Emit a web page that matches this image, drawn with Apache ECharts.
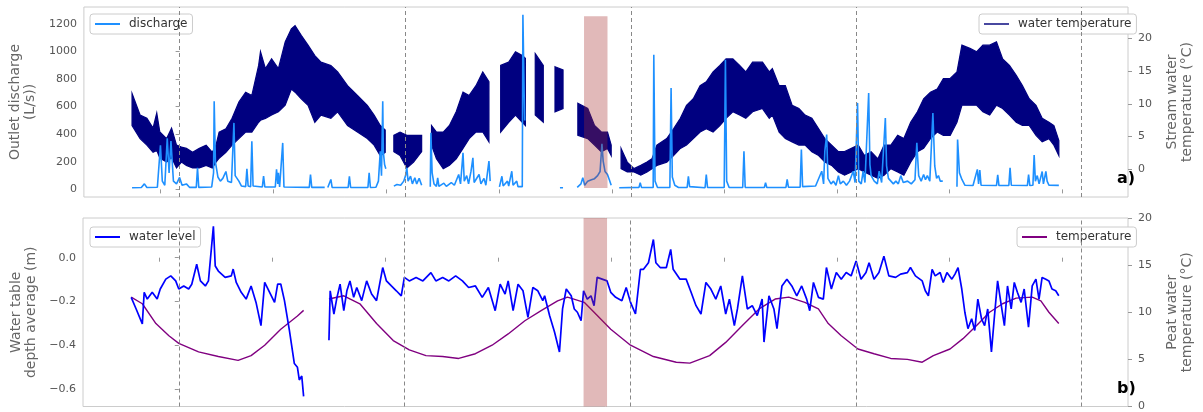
<!DOCTYPE html>
<html><head><meta charset="utf-8">
<script src="https://cdn.jsdelivr.net/npm/echarts@6/dist/echarts.min.js"></script>
<style>html,body{margin:0;padding:0;background:#fff}#c{width:1203px;height:412px}</style>
</head><body><div id="c"></div>
<script>
// x values: days since 2015-01-01
const yearStarts = [0, 365, 731, 1096, 1461];
const xTicks = [-31, 151, 334, 517, 700, 882, 1065, 1247, 1430];
const eventSpan = [655, 693];
const dischargeTicks = [0, 200, 400, 600, 800, 1000, 1200];
const streamTempTicks = [0, 5, 10, 15, 20];
const levelTicks = [-0.6, -0.4, -0.2, 0.0];
const peatTempTicks = [0, 5, 10, 15, 20];

// stream water temperature: daily envelope (max / min), null = no data
const tempDays = [-77,-64,-53,-43,-37,-32,-21,-13,-5,3,11,21,32,43,53,59,64,75,85,96,107,117,128,131,139,149,160,171,181,187,197,208,219,229,245,256,272,288,304,315,325,333,340,
347,357,368,379,392,400,
408,416,427,437,448,459,469,480,491,501,510,
520,533,544,555,560,568,
576,589,598,
608,621,633,
645,661,672,683,693,699,707,
715,725,736,747,757,765,773,789,800,811,821,832,843,853,864,875,885,896,907,917,928,944,955,960,971,981,992,1003,1013,1024,1035,1045,1056,1067,1077,1088,1099,1109,1120,1131,1141,1152,1163,1173,1184,1195,1205,1216,1227,1237,1248,1259,1267,1280,1291,1301,1312,1323,1333,1344,1355,1365,1376,1387,1397,1408,1416,1424];
const tempMax = [11.6,8.3,7.8,6.3,8.6,5.7,4.7,6.3,3.7,3.4,3.2,2.6,3.2,3.7,2.6,3.7,5.7,6.2,7.8,10.3,11.8,11.3,15.9,18.0,15.4,16.9,15.4,19.5,21.5,22.0,20.5,19.0,17.4,16.4,15.9,14.9,12.8,11.3,9.8,8.3,6.7,6.0,null,
5.2,5.7,5.2,5.2,5.2,null,
6.7,5.7,5.7,6.7,8.8,11.8,11.3,12.8,14.9,13.4,null,
15.9,16.4,18.0,17.4,17.0,null,
17.7,15.9,null,
15.7,15.2,null,
10.1,9.3,6.7,5.7,5.7,3.7,null,
3.2,1.1,0.1,0.6,1.1,1.6,3.7,4.7,6.2,7.8,9.8,10.8,12.8,13.4,14.9,15.9,16.9,16.9,15.9,14.9,16.4,16.4,14.9,15.4,12.8,12.8,9.8,9.3,8.3,7.8,6.2,4.7,3.7,2.7,2.7,3.2,3.7,2.1,2.7,1.6,3.7,3.7,5.2,4.7,7.2,8.8,10.8,11.8,12.3,13.9,13.9,14.9,19.0,18.5,18.0,19.0,19.0,19.5,16.9,15.9,14.4,12.8,10.8,9.8,7.8,7.2,6.7,4.4];
const tempMin = [6.7,4.7,3.7,2.6,2.9,1.7,1.1,1.8,0.2,1.1,0.6,0.2,0.2,0.6,0.2,1.1,1.7,2.6,3.7,4.7,5.7,5.7,7.2,7.5,7.8,8.3,8.8,9.8,12.3,11.8,10.8,9.8,7.2,8.3,7.8,8.8,6.7,5.7,4.7,3.7,2.1,2.6,null,
2.7,2.1,0.2,1.1,2.7,null,
3.7,1.6,0.1,0.6,1.6,3.2,4.7,5.7,5.7,4.2,null,
5.7,7.2,8.3,7.2,6.7,null,
8.3,7.2,null,
8.8,9.3,null,
5.2,4.7,3.7,2.7,3.2,2.1,null,
0.1,-0.4,-0.4,-0.9,-0.4,0.1,0.6,1.1,2.1,3.2,3.7,4.7,5.7,6.2,5.7,6.7,7.8,8.8,8.3,7.8,8.8,9.3,7.8,8.3,5.7,4.7,4.2,3.7,3.7,2.7,2.1,1.1,0.6,-0.4,-0.9,-0.4,0.1,-0.4,-0.9,-1.4,-0.9,0.1,-0.4,-0.9,1.1,2.7,3.2,4.7,5.7,5.2,5.2,7.2,9.8,9.8,9.8,8.8,8.3,9.8,9.3,8.3,7.2,6.7,6.7,5.2,4.2,4.7,3.7,2.1];

// outlet discharge (L/s): [day, value]
const discharge = [[-77,12],[-62,14],[-57,40],[-53,14],[-36,16],[-31,320],[-28,60],[-24,30],[-20,370],[-17,120],[-14,350],[-10,60],[-5,40],[0,87],[4,30],[11,40],[16,15],[27,15],[29,157],[31,15],[52,18],[55,120],[56,638],[58,200],[62,90],[66,60],[70,80],[75,130],[78,60],[84,50],[88,482],[90,100],[96,60],[100,25],[107,20],[109,150],[111,25],[115,20],[117,349],[119,25],[134,18],[136,96],[138,18],[155,18],[157,145],[159,40],[160,120],[162,18],[165,18],[167,337],[169,18],[210,15],[212,108],[214,15],[235,15],[237,null],[240,14],[243,14],[245,72],[247,14],[273,14],[275,95],[277,14],[305,14],[307,120],[309,14],[318,16],[322,60],[325,277],[327,100],[329,638],[330,270],[332,180],[334,150],[338,null],
[347,24],[352,35],[358,30],[363,60],[366,100],[368,157],[370,60],[374,96],[377,40],[381,84],[384,40],[388,80],[392,30],[398,null],
[406,20],[407,410],[409,120],[412,40],[416,22],[418,84],[420,22],[428,45],[432,22],[440,50],[445,30],[452,108],[455,40],[459,265],[461,60],[465,100],[468,40],[472,132],[475,229],[477,50],[485,108],[488,40],[493,80],[496,30],[501,205],[503,60],[507,null],
[518,18],[522,95],[524,25],[531,60],[533,25],[538,132],[540,30],[546,60],[548,20],[555,20],[556,1265],[558,700],[559,500],[563,null],
[616,12],[621,12],[625,null],
[644,15],[650,40],[653,85],[656,30],[661,60],[667,70],[672,78],[677,100],[681,130],[684,330],[686,205],[689,130],[693,108],[696,70],[699,30],[704,null],
[712,12],[744,15],[746,48],[748,15],[767,14],[768,976],[770,60],[774,14],[794,14],[796,735],[798,90],[802,30],[808,14],[822,14],[824,95],[826,20],[851,12],[853,108],[855,15],[882,14],[884,940],[886,60],[890,14],[912,14],[914,277],[916,15],[947,14],[949,48],[951,14],[982,14],[984,72],[986,16],[1005,16],[1007,289],[1009,20],[1030,25],[1040,132],[1043,40],[1045,277],[1048,397],[1050,80],[1055,40],[1059,60],[1063,30],[1067,100],[1070,40],[1075,60],[1080,30],[1085,60],[1091,132],[1094,50],[1098,627],[1100,60],[1104,40],[1107,132],[1110,50],[1116,699],[1118,180],[1120,100],[1125,60],[1130,40],[1133,132],[1137,50],[1143,518],[1145,170],[1148,80],[1152,60],[1156,40],[1160,60],[1164,40],[1168,100],[1172,50],[1179,60],[1185,40],[1191,70],[1194,337],[1197,100],[1201,60],[1205,108],[1208,70],[1211,100],[1215,60],[1220,554],[1223,170],[1226,80],[1229,100],[1232,60],[1236,60],[1240,null],
[1259,20],[1260,361],[1263,120],[1267,72],[1272,30],[1285,28],[1292,145],[1294,40],[1296,140],[1298,30],[1323,28],[1325,105],[1327,28],[1343,28],[1345,157],[1347,30],[1373,28],[1375,108],[1377,28],[1382,30],[1384,250],[1386,60],[1389,100],[1392,40],[1397,130],[1399,40],[1403,130],[1405,60],[1408,30],[1424,29]];

// water table depth average (m): [day, value]
const waterLevel = [[-77,-0.181],[-69,-0.234],[-59,-0.302],[-56,-0.158],[-51,-0.189],[-43,-0.158],[-35,-0.189],[-30,-0.143],[-21,-0.098],[-13,-0.083],[-5,-0.106],[0,-0.143],[8,-0.129],[16,-0.143],[21,-0.121],[29,-0.030],[35,-0.106],[43,-0.129],[48,-0.106],[56,0.143],[59,-0.038],[64,-0.061],[75,-0.090],[85,-0.083],[88,-0.052],[93,-0.113],[101,-0.158],[109,-0.189],[117,-0.129],[125,-0.204],[133,-0.310],[139,-0.113],[147,-0.158],[155,-0.204],[160,-0.121],[165,-0.12],[171,-0.196],[179,-0.332],[187,-0.483],[192,-0.50],[195,-0.558],[199,-0.54],[202,-0.633],[220,null],
[243,-0.377],[245,-0.151],[251,-0.257],[256,-0.181],[261,-0.121],[267,-0.242],[272,-0.151],[277,-0.106],[283,-0.181],[288,-0.136],[296,-0.196],[304,-0.106],[312,-0.166],[320,-0.196],[325,-0.121],[330,-0.045],[336,-0.106],[344,-0.129],[352,-0.151],[360,-0.174],[365,-0.090],[373,-0.106],[384,-0.090],[395,-0.106],[408,-0.068],[416,-0.106],[427,-0.090],[437,-0.106],[448,-0.083],[459,-0.106],[469,-0.136],[480,-0.129],[491,-0.181],[501,-0.136],[512,-0.242],[520,-0.121],[528,-0.166],[533,-0.106],[541,-0.242],[549,-0.121],[557,-0.151],[565,-0.272],[573,-0.136],[581,-0.151],[589,-0.196],[592,-0.174],[600,-0.264],[608,-0.339],[616,-0.430],[621,-0.234],[627,-0.143],[635,-0.174],[640,-0.234],[645,-0.249],[651,-0.287],[655,-0.151],[661,-0.189],[667,-0.174],[672,-0.219],[677,-0.090],[685,-0.098],[693,-0.106],[699,-0.158],[707,-0.181],[717,-0.196],[724,-0.136],[731,-0.204],[739,-0.257],[747,-0.053],[752,-0.053],[760,-0.023],[768,0.083],[772,-0.023],[779,-0.045],[789,-0.045],[796,0.038],[800,-0.053],[811,-0.098],[821,-0.098],[829,-0.158],[837,-0.219],[845,-0.257],[853,-0.113],[861,-0.143],[869,-0.189],[877,-0.129],[885,-0.257],[891,-0.189],[899,-0.310],[904,-0.234],[912,-0.083],[920,-0.234],[928,-0.219],[936,-0.264],[944,-0.189],[947,-0.385],[955,-0.174],[963,-0.234],[968,-0.324],[976,-0.129],[984,-0.098],[992,-0.129],[1000,-0.174],[1008,-0.129],[1016,-0.189],[1021,-0.242],[1027,-0.113],[1035,-0.181],[1043,-0.189],[1048,-0.045],[1056,-0.143],[1064,-0.068],[1072,-0.098],[1080,-0.068],[1088,-0.083],[1096,-0.015],[1104,-0.098],[1112,-0.068],[1117,-0.023],[1125,-0.098],[1133,-0.068],[1141,0.007],[1149,-0.083],[1152,-0.083],[1160,-0.090],[1168,-0.075],[1179,-0.068],[1184,-0.045],[1192,-0.083],[1203,-0.106],[1208,-0.151],[1213,-0.174],[1219,-0.053],[1224,-0.083],[1232,-0.068],[1237,-0.113],[1243,-0.068],[1251,-0.098],[1256,-0.075],[1261,-0.045],[1267,-0.143],[1272,-0.249],[1277,-0.324],[1283,-0.279],[1288,-0.332],[1293,-0.189],[1299,-0.279],[1304,-0.310],[1309,-0.234],[1315,-0.430],[1320,-0.264],[1325,-0.106],[1331,-0.219],[1336,-0.310],[1341,-0.129],[1347,-0.234],[1352,-0.113],[1357,-0.158],[1363,-0.204],[1368,-0.143],[1375,-0.317],[1381,-0.129],[1387,-0.098],[1392,-0.189],[1397,-0.090],[1403,-0.098],[1408,-0.106],[1413,-0.143],[1419,-0.151],[1424,-0.174]];

// peat water temperature (°C): [day, value]
const peatTemp = [[-77,11.6],[-59,10.9],[-37,8.8],[-16,7.5],[0,6.7],[32,5.8],[64,5.3],[96,4.9],[117,5.4],[139,6.5],[165,8.2],[192,9.6],[202,10.2],[220,null],[243,11.4],[267,11.75],[293,10.9],[320,8.8],[347,7.0],[373,6.0],[400,5.4],[427,5.3],[453,5.1],[480,5.6],[507,6.5],[533,7.7],[560,9.1],[587,10.2],[613,11.2],[629,11.6],[656,11.05],[672,10.0],[699,8.2],[731,6.5],[768,5.3],[805,4.7],[827,4.6],[859,5.4],[885,6.8],[912,8.6],[939,10.35],[965,11.4],[987,11.6],[1013,11.05],[1035,10.35],[1051,8.8],[1072,7.5],[1099,6.1],[1125,5.6],[1152,5.1],[1179,5.0],[1203,4.7],[1221,5.4],[1248,6.1],[1269,7.2],[1291,8.6],[1312,10.0],[1333,10.9],[1355,11.5],[1381,11.6],[1395,11.2],[1408,10.0],[1424,8.8]];

const FONT = 'DejaVu Sans';
const C_DIS = '#1e90ff', C_TEMP = '#000080', C_WL = '#0000ff', C_PT = '#800080';
const SPAN = 'rgba(165,42,42,0.33)';

// contiguous runs of the temperature record (split at null entries)
const tempSegments = [];
(function () {
  let s = -1;
  for (let i = 0; i <= tempDays.length; i++) {
    const ok = i < tempDays.length && tempMax[i] != null;
    if (ok && s < 0) s = i;
    if (!ok && s >= 0) { tempSegments.push([s, i - 1]); s = -1; }
  }
})();

function renderBand(params, api) {
  const seg = tempSegments[params.dataIndex];
  const up = [], lo = [];
  for (let i = seg[0]; i <= seg[1]; i++) {
    up.push(api.coord([tempDays[i], tempMax[i]]));
    lo.push(api.coord([tempDays[i], tempMin[i]]));
  }
  const pts = up.concat(lo.reverse());
  return {
    type: 'polygon',
    shape: {points: pts},
    style: {fill: C_TEMP, stroke: C_TEMP, lineWidth: 1.2, lineJoin: 'miter'}
  };
}

const chart = echarts.init(document.getElementById('c'), null, {renderer: 'canvas'});

function xAx(gi) {
  return {
    type: 'value', gridIndex: gi, min: -155, max: 1536,
    axisLine: {show: false}, splitLine: {show: false},
    axisLabel: {show: false},
    axisTick: {show: true, length: 4, inside: false, customValues: xTicks, lineStyle: {color: '#999', width: 1}}
  };
}
function yAx(gi, pos, min, max, ticks, name, gap, fmt) {
  return {
    type: 'value', gridIndex: gi, position: pos, min: min, max: max,
    splitLine: {show: false}, axisLine: {show: false},
    axisTick: {show: true, length: 4, inside: false, customValues: ticks, lineStyle: {color: '#999'}},
    axisLabel: {customValues: ticks, color: '#555', fontFamily: FONT, fontSize: 11, margin: pos === 'left' ? 7 : 10,
      formatter: fmt || (v => String(v))},
    name: name, nameLocation: 'middle', nameRotate: 90, nameGap: gap,
    nameTextStyle: {color: '#666', fontFamily: FONT, fontSize: 14, lineHeight: 15}
  };
}
function vlines() {
  return {
    symbol: 'none', silent: true, z: 6, label: {show: false},
    lineStyle: {color: '#888', type: [4, 3], width: 1},
    data: yearStarts.map(d => ({xAxis: d}))
  };
}
function legendBox(left, top, name, color) {
  return {
    left: left, top: top, orient: 'horizontal', selectedMode: false,
    backgroundColor: '#fff', borderColor: '#ccc', borderWidth: 1, borderRadius: 3,
    padding: [4, 5, 4, 5], itemWidth: 25, itemHeight: 2,
    textStyle: {fontFamily: FONT, fontSize: 12, color: '#333', padding: [0, 0, 0, 4]},
    data: [{name: name, icon: 'rect', itemStyle: {color: color}}]
  };
}

const option = {
  animation: false,
  backgroundColor: '#fff',
  grid: [
    {left: 83, right: 63, top: 7, height: 190, show: true, borderColor: '#ccc', borderWidth: 1, backgroundColor: 'transparent'},
    {left: 83, right: 63, top: 218, height: 190, show: true, borderColor: '#ccc', borderWidth: 1, backgroundColor: 'transparent'}
  ],
  xAxis: [xAx(0), xAx(1)],
  yAxis: [
    yAx(0, 'left', -55, 1322, dischargeTicks, 'Outlet discharge\n(L/s))', 40),
    yAx(0, 'right', -4.24, 24.84, streamTempTicks, 'Stream water\ntemperature (°C)', 37),
    yAx(1, 'left', -0.679, 0.181, levelTicks, 'Water table\ndepth average (m)', 40,
      v => (v < 0 ? '\u2212' : '') + Math.abs(v).toFixed(1)),
    yAx(1, 'right', 0, 20, peatTempTicks, 'Peat water\ntemperature (°C)', 37)
  ],
  legend: [
    legendBox(90, 14, 'discharge', C_DIS),
    legendBox(979, 14, 'water temperature', '#4848a0'),
    legendBox(90, 227, 'water level', C_WL),
    legendBox(1017, 227, 'temperature', C_PT)
  ],
  series: [
    {name: 'water temperature', type: 'custom', xAxisIndex: 0, yAxisIndex: 1, clip: true,
      renderItem: renderBand, data: tempSegments.map((s, k) => [tempDays[s[0]], tempDays[s[1]], k]),
      encode: {x: [0, 1]}, itemStyle: {color: C_TEMP}, z: 2, silent: true},
    {name: 'discharge', type: 'line', xAxisIndex: 0, yAxisIndex: 0, data: discharge,
      symbol: 'none', lineStyle: {color: C_DIS, width: 1.6}, itemStyle: {color: C_DIS}, z: 3,
      markLine: vlines()},
    {name: 'span1', type: 'line', xAxisIndex: 0, yAxisIndex: 0, data: [[eventSpan[0], null]], symbol: 'none', z: 8,
      markArea: {silent: true, z: 8, itemStyle: {color: SPAN},
        data: [[{xAxis: eventSpan[0], yAxis: 10}, {xAxis: eventSpan[1], yAxis: 1255}]]}},
    {name: 'temperature', type: 'line', xAxisIndex: 1, yAxisIndex: 3, data: peatTemp,
      symbol: 'none', lineStyle: {color: C_PT, width: 1.4}, itemStyle: {color: C_PT}, z: 2},
    {name: 'water level', type: 'line', xAxisIndex: 1, yAxisIndex: 2, data: waterLevel,
      symbol: 'none', lineStyle: {color: C_WL, width: 1.7}, itemStyle: {color: C_WL}, z: 3,
      markLine: vlines()},
    {name: 'span2', type: 'line', xAxisIndex: 1, yAxisIndex: 2, data: [[eventSpan[0], null]], symbol: 'none', z: 8,
      markArea: {silent: true, z: 8, itemStyle: {color: SPAN},
        data: [[{xAxis: eventSpan[0], yAxis: -0.679}, {xAxis: eventSpan[1], yAxis: 0.181}]]}}
  ],
  graphic: [
    {type: 'text', left: 1117, top: 171, style: {text: 'a)', font: 'bold 16px "DejaVu Sans"', fill: '#000'}},
    {type: 'text', left: 1117, top: 381, style: {text: 'b)', font: 'bold 16px "DejaVu Sans"', fill: '#000'}}
  ]
};
chart.setOption(option);
</script>
</body></html>
